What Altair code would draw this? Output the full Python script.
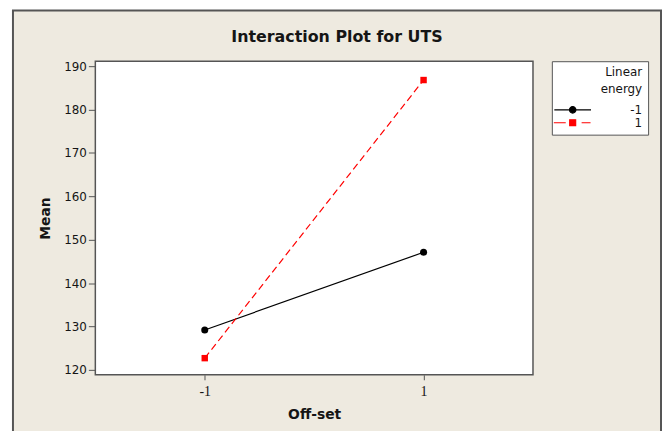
import altair as alt
import pandas as pd

# ---- data ----
offset_levels = [-1, 1]
energy_levels = ["-1", "1"]
mean_energy_low = [129.2, 147.1]   # Linear energy = -1
mean_energy_high = [122.7, 186.8]  # Linear energy = 1
y_ticks = [120, 130, 140, 150, 160, 170, 180, 190]

df = pd.DataFrame({
    "Off-set": offset_levels * 2,
    "Mean": mean_energy_low + mean_energy_high,
    "Linear energy": [energy_levels[0]] * 2 + [energy_levels[1]] * 2,
})
deco = pd.DataFrame({"k": [0]})

BG = "#EEEAE0"
FRAME = "#555555"
TXT = "#151515"
W, H = 441, 316

x_enc = alt.X(
    "Off-set:Q",
    scale=alt.Scale(domain=[-2, 2], nice=False, zero=False),
    axis=alt.Axis(values=offset_levels, title="Off-set", labelExpr="'' + datum.value",
                  grid=False, domain=False, tickColor=FRAME, tickSize=5,
                  labelFont="Liberation Serif", labelFontSize=14, labelColor=TXT,
                  labelPadding=5, titleFont="DejaVu Sans", titleFontSize=14,
                  titleFontWeight="bold", titleColor=TXT, titlePadding=9, zindex=1),
)
y_enc = alt.Y(
    "Mean:Q",
    scale=alt.Scale(domain=[118.86, 191.14], nice=False, zero=False),
    axis=alt.Axis(values=y_ticks, title="Mean", labelExpr="'' + datum.value",
                  grid=False, domain=False, tickColor=FRAME, tickSize=7,
                  labelFont="DejaVu Sans", labelFontSize=12, labelColor=TXT,
                  labelPadding=2, titleFont="DejaVu Sans", titleFontSize=14,
                  titleFontWeight="bold", titleColor=TXT, titlePadding=11, zindex=1),
)

outer = alt.Chart(deco).mark_rect(fill=BG, stroke=FRAME, strokeWidth=2).encode(
    x=alt.value(-83), x2=alt.value(570), y=alt.value(-51), y2=alt.value(420))
plot_bg = alt.Chart(deco).mark_rect(fill="white", stroke=FRAME, strokeWidth=1.5).encode(
    x=alt.value(0), x2=alt.value(W), y=alt.value(0), y2=alt.value(H))

base = alt.Chart(df)
low = base.transform_filter(alt.datum["Linear energy"] == energy_levels[0])
high = base.transform_filter(alt.datum["Linear energy"] == energy_levels[1])

low_line = low.mark_line(color="black", strokeWidth=1.2).encode(x=x_enc, y=y_enc)
low_pts = low.mark_point(filled=True, shape="circle", size=50, color="black", opacity=1).encode(x=x_enc, y=y_enc)
high_line = high.mark_line(color="#FF0000", strokeWidth=1.2, strokeDash=[7, 4]).encode(x=x_enc, y=y_enc)
high_pts = high.mark_point(filled=True, shape="square", size=42, color="#FF0000", opacity=1).encode(x=x_enc, y=y_enc)

circle_path = "M-3.7,0H3.7M-0.65,0A0.65,0.65,0,1,0,0.65,0A0.65,0.65,0,1,0,-0.65,0Z"
square_path = "M-3.8,0H-1.4M1.8,0H3.6M-0.6,-0.6H0.6V0.6H-0.6Z"

leg = alt.Legend(
    title=["Linear", "energy"], orient="none", legendX=460, legendY=0,
    padding=6, strokeColor=FRAME, fillColor="white", cornerRadius=0,
    titleAlign="right", titleAnchor="end", titleFontWeight="normal",
    titleFontSize=12, titleFont="DejaVu Sans", titleColor=TXT, titleLineHeight=17,
    titlePadding=8, labelAlign="right", labelOffset=64, labelFontSize=12,
    labelFont="DejaVu Sans", labelColor=TXT, symbolOffset=9, rowPadding=1,
    symbolStrokeWidth=1.2, symbolOpacity=1,
)
legend_layer = base.mark_point(filled=True, size=100, strokeWidth=1.2).encode(
    x=x_enc, y=y_enc,
    color=alt.Color("Linear energy:N", scale=alt.Scale(domain=energy_levels, range=["black", "#FF0000"]), legend=leg),
    stroke=alt.Stroke("Linear energy:N", scale=alt.Scale(domain=energy_levels, range=["black", "#FF0000"]), legend=leg),
    shape=alt.Shape("Linear energy:N", scale=alt.Scale(domain=energy_levels, range=[circle_path, square_path]), legend=leg),
    opacity=alt.value(0),
)

chart = alt.layer(outer, plot_bg, low_line, high_line, low_pts, high_pts, legend_layer).properties(
    width=W, height=H,
    autosize=alt.AutoSizeParams(type="none"),
    padding={"left": 88, "top": 52, "right": 130, "bottom": 55},
    background="white",
    title=alt.TitleParams("Interaction Plot for UTS", font="DejaVu Sans", fontSize=16,
                          fontWeight="bold", color=TXT, anchor="middle", dx=23,
                          baseline="alphabetic", offset=-49),
).configure_view(stroke="transparent")

chart.save("out.html", embed_options={"renderer": "svg", "actions": False})
